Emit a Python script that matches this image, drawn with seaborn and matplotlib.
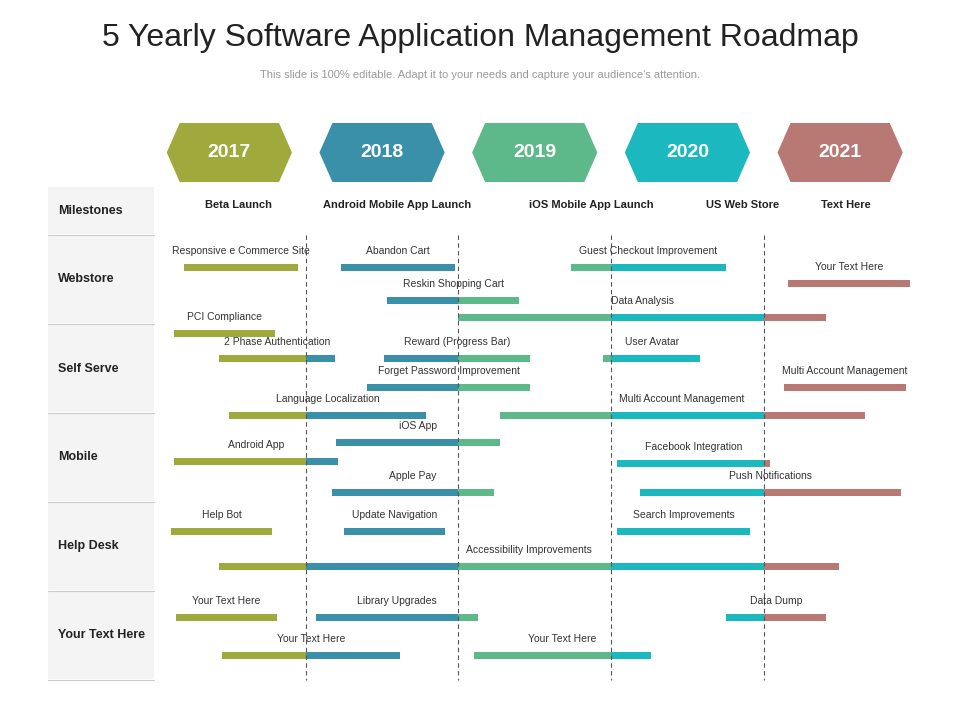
import matplotlib
matplotlib.use("Agg")
import matplotlib.pyplot as plt
from matplotlib.patches import Polygon, Rectangle
import seaborn as sns

sns.set_theme(style="white", font="Liberation Sans")

years = [2017, 2018, 2019, 2020, 2021]
year_colors = ["#a0a93b", "#3a8fa9", "#5db98a", "#1bb8bf", "#b87873"]

rows = ["Milestones", "Webstore", "Self Serve", "Mobile", "Help Desk", "Your Text Here"]
row_bounds = [187, 235, 324, 413, 502, 591, 680]

milestones = ["Beta Launch", "Android Mobile App Launch", "iOS Mobile App Launch", "US Web Store", "Text Here"]
milestone_x = [2017.56, 2018.60, 2019.87, 2020.86, 2021.54]

task_labels = ["Responsive e Commerce Site", "Abandon Cart", "Guest Checkout Improvement", "Your Text Here",
               "Reskin Shopping Cart", "Data Analysis",
               "PCI Compliance", "2 Phase Authentication", "Reward (Progress Bar)", "User Avatar",
               "Forget Password Improvement", "Multi Account Management", "Language Localization",
               "Multi Account Management",
               "iOS App", "Android App", "Facebook Integration", "Apple Pay", "Push Notifications",
               "Help Bot", "Update Navigation", "Search Improvements", "Accessibility Improvements",
               "Your Text Here", "Library Upgrades", "Data Dump", "Your Text Here", "Your Text Here"]
task_start = [2017.20, 2018.23, 2019.74, 2021.16, 2018.53, 2019.00,
              2017.14, 2017.43, 2018.51, 2019.95, 2018.40, 2021.13, 2017.50, 2019.27,
              2018.20, 2017.14, 2020.04, 2018.17, 2020.19,
              2017.12, 2018.25, 2020.04, 2017.43,
              2017.15, 2018.07, 2020.75, 2017.45, 2019.10]
task_end = [2017.95, 2018.98, 2020.75, 2021.96, 2019.40, 2021.41,
            2017.80, 2018.19, 2019.47, 2020.58, 2019.47, 2021.93, 2018.79, 2021.66,
            2019.27, 2018.21, 2021.04, 2019.23, 2021.90,
            2017.78, 2018.91, 2020.91, 2021.49,
            2017.81, 2019.13, 2021.41, 2018.62, 2020.26]
task_row_pos = [267, 267, 267, 283, 300, 317,
                333, 358, 358, 358, 387, 387, 415, 415,
                442, 461, 463, 492, 492,
                531, 531, 531, 566,
                617, 617, 617, 655, 655]

PX = 152.7
def px2yr(px):
    return 2017 + (px - 153) / PX

fig = plt.figure(figsize=(9.6, 7.2), dpi=100)
ax = fig.add_axes([0, 0, 1, 1])
ax.set_xlim(px2yr(0), px2yr(960))
ax.set_ylim(720, 0)
ax.axis("off")

fig.text(0.5, 1 - 38/720, "5 Yearly Software Application Management Roadmap", ha="center", va="center",
         fontsize=23, color="#222222")
fig.text(0.5, 1 - 75/720, "This slide is 100% editable. Adapt it to your needs and capture your audience's attention.",
         ha="center", va="center", fontsize=8, color="#999999")

# left panel
x0, x1 = px2yr(48), px2yr(154)
for i, r in enumerate(rows):
    ax.add_patch(Rectangle((x0, row_bounds[i]), x1 - x0, row_bounds[i+1] - row_bounds[i] - 1.5,
                           facecolor="#f4f4f4", edgecolor="none"))
    ax.plot([x0, x1], [row_bounds[i+1] - 0.5]*2, color="#cccccc", lw=0.8)
    ax.text(px2yr(58), (row_bounds[i] + row_bounds[i+1]) / 2, r, ha="left", va="center",
            fontsize=9, fontweight="bold", color="#222222")

# hexagons
for y, c in zip(years, year_colors):
    cx = y + 0.5
    w, h = 0.41, 0.085
    yt, yb = 123, 182
    ym = (yt + yb) / 2
    pts = [(cx - w, ym), (cx - w + h, yt), (cx + w - h, yt), (cx + w, ym), (cx + w - h, yb), (cx - w + h, yb)]
    ax.add_patch(Polygon(pts, closed=True, facecolor=c, edgecolor="none"))
    ax.text(cx, ym, str(y), ha="center", va="center", fontsize=14, fontweight="bold", color="white")

# dashed year lines
for y in years[1:]:
    ax.plot([y, y], [235, 680], ls=(0, (4, 3)), color="#555555", lw=0.8)

for m, mx in zip(milestones, milestone_x):
    ax.text(mx, 205, m, ha="center", va="center", fontsize=8, fontweight="bold", color="#222222")

# task bars, coloured by year segment
for lab, s, e, yp in zip(task_labels, task_start, task_end, task_row_pos):
    for y, c in zip(years, year_colors):
        a, b = max(s, y), min(e, y + 1)
        if b > a:
            ax.barh(yp, b - a, left=a, height=7, color=c, edgecolor="none")
    ax.text((s + e) / 2, yp - 16, lab, ha="center", va="center", fontsize=7.5, color="#333333")

fig.savefig("out.png", dpi=100)
